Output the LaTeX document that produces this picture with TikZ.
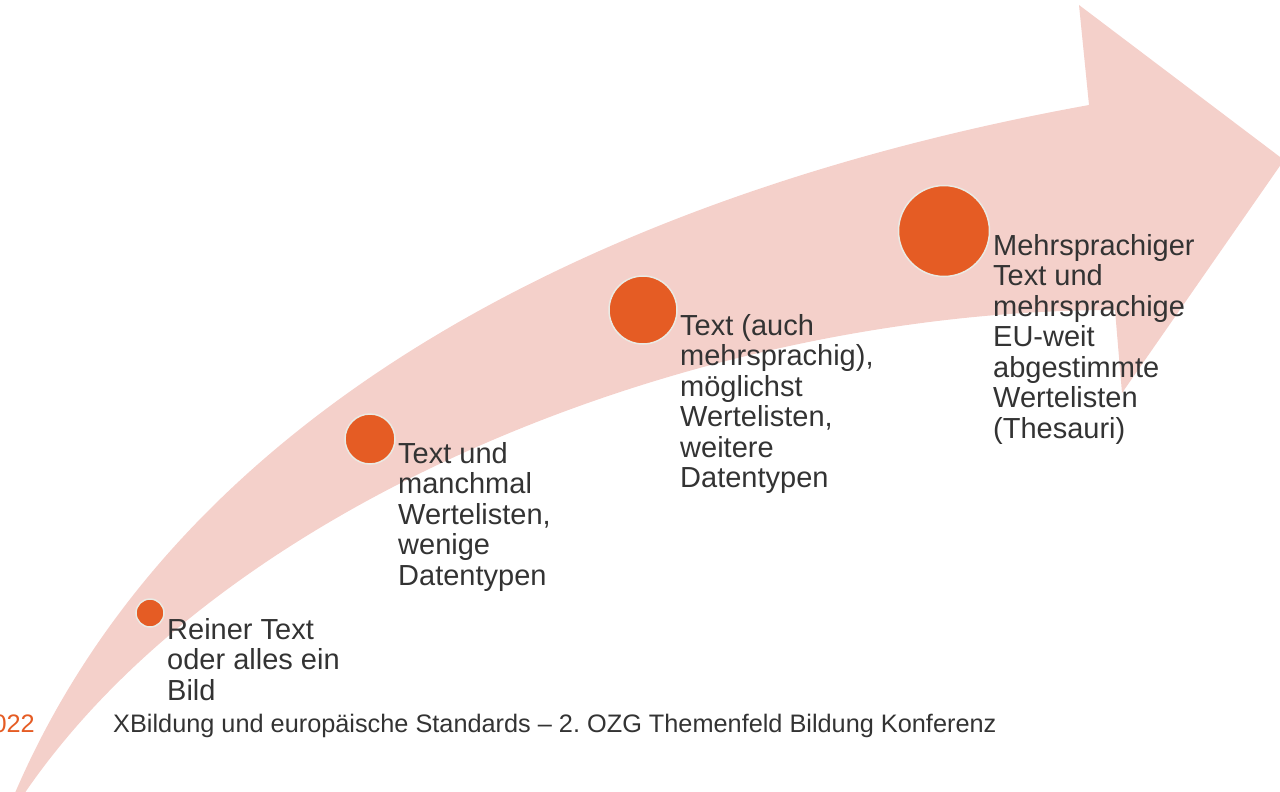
\documentclass[tikz,border=0pt]{standalone}
\usepackage{fontspec}
\setmainfont{Liberation Sans}
\frenchspacing
\definecolor{arrowpink}{HTML}{F4D0CA}
\definecolor{dotorange}{HTML}{E55C24}
\definecolor{dotrim}{HTML}{EAEAE4}
\definecolor{textgray}{HTML}{333333}
\begin{document}
\begin{tikzpicture}
[x=1pt,y=-1pt,
 dotdecorate/.style={shape=circle,inner sep=0pt,fill=dotorange,draw=dotrim,line width=1.5pt},
 labeldecorate/.style={anchor=base west,align=left,inner sep=0pt,text=textgray,font=\fontsize{29}{30.5}\selectfont},
 footdecorate/.style={anchor=base west,inner sep=0pt,text=textgray,font=\fontsize{25.3}{30}\selectfont}]
\path[use as bounding box,clip] (0,0) rectangle (1280,792);
%% the big arrow
\fill[arrowpink] (12,800) .. controls (180,400) and (620,190) .. (1089,105)
 -- (1079,5) -- (1284,160) -- (1122,393) -- (1115,310)
 .. controls (700,310) and (220,500) .. (20,800) -- cycle;
%% dots
\foreach \dotname/\x/\y/\d in {DotA/150/613/28, DotB/370/439/50,
 DotC/643/310/68, DotD/944/231/91}
{
  \node (\dotname) at (\x,\y) [dotdecorate,minimum size=\d pt] {};
}
%% labels (placed at the baseline of their last line)
\foreach \labelname/\x/\y/\labeltext in {
 LabelA/167/700/{Reiner Text\\oder alles ein\\Bild},
 LabelB/398/585/{Text und\\manchmal\\Wertelisten,\\wenige\\Datentypen},
 LabelC/680/487.5/{Text (auch\\mehrsprachig),\\möglichst\\Wertelisten,\\weitere\\Datentypen},
 LabelD/993/438/{Mehrsprachiger\\Text und\\mehrsprachige\\EU-weit\\abgestimmte\\Wertelisten\\(Thesauri)}}
{
  \node (\labelname) at (\x,\y) [labeldecorate] {\labeltext};
}
%% footer
\node (Year) at (35,732) [footdecorate,anchor=base east,text=dotorange] {022};
\node (Footer) at (113,732) [footdecorate] {XBildung und europäische Standards – 2. OZG Themenfeld Bildung Konferenz};
\end{tikzpicture}
\end{document}
